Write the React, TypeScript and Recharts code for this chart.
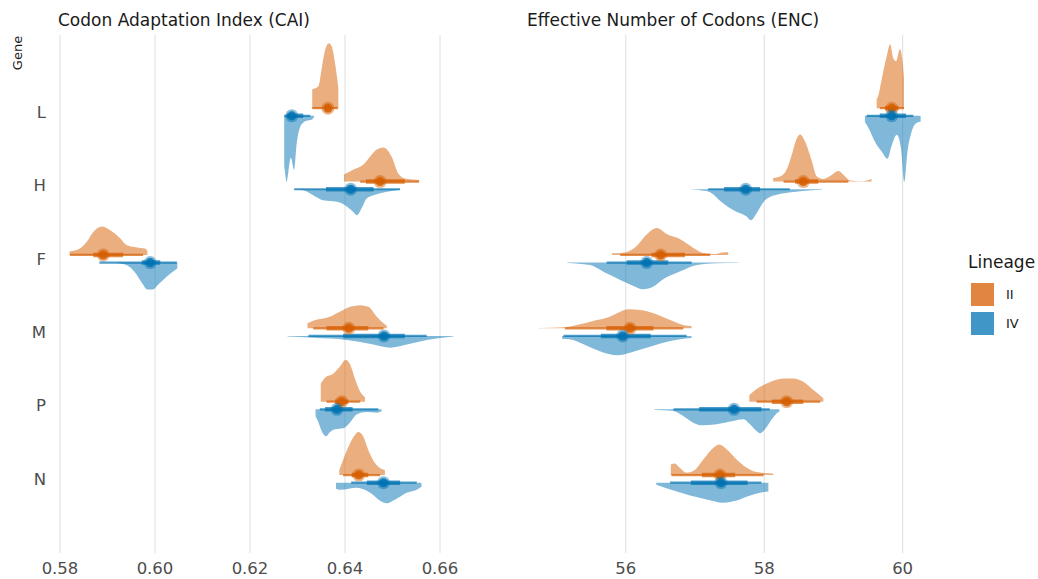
import React from "react";
import { ComposedChart, Area, Line, Scatter, XAxis, YAxis, CartesianGrid } from "recharts";

const ORANGE = "#D55E00";
const BLUE = "#0072B2";
const FONT = "'DejaVu Sans', sans-serif";

const GENES = ["L", "H", "F", "M", "P", "N"];
const LINEAGES = ["II", "IV"];

const CAI_TICKS = [0.58, 0.6, 0.62, 0.64, 0.66];
const ENC_TICKS = [56, 58, 60];

// density outlines, [value, relative density], one list per gene (same order as GENES)
const CAI_DENS_II = [
  [[0.6331, 19], [0.6344, 22], [0.6351, 40], [0.6358, 58], [0.6366, 65], [0.6372, 62], [0.6379, 45], [0.6384, 28], [0.6386, 20]],
  [[0.6398, 7], [0.6418, 12], [0.6439, 17], [0.6453, 25], [0.6467, 32], [0.6481, 34], [0.6498, 25], [0.6512, 8], [0.6526, 3], [0.6556, 1.5]],
  [[0.582, 3.5], [0.5842, 6.5], [0.5856, 13], [0.587, 23], [0.5888, 28.5], [0.5905, 25], [0.5926, 17], [0.594, 10], [0.5962, 7.5], [0.5979, 6.5], [0.5984, 4]],
  [[0.6321, 5], [0.6333, 7.5], [0.6368, 11.5], [0.6389, 16.5], [0.6411, 21.5], [0.6432, 23], [0.6449, 21.5], [0.6467, 11.5], [0.6481, 5], [0.6488, 2.5]],
  [[0.6349, 18], [0.6358, 24], [0.6375, 28], [0.6389, 35], [0.6402, 42], [0.6411, 37], [0.6421, 23], [0.6432, 10], [0.6442, 4.5]],
  [[0.6388, 5], [0.6396, 15], [0.6407, 28], [0.6418, 38], [0.6428, 43], [0.6439, 38], [0.6449, 25], [0.6463, 12], [0.6477, 6], [0.6484, 5]],
];

const CAI_DENS_IV = [
  [[0.6272, 50], [0.6274, 58], [0.6277, 66], [0.6286, 42], [0.6293, 54], [0.6298, 29], [0.6305, 12], [0.6312, 7], [0.6319, 5], [0.633, 4], [0.6335, 1]],
  [[0.6294, 0.3], [0.6312, 1], [0.6333, 6], [0.6354, 11], [0.6383, 12.5], [0.64, 16], [0.6418, 23], [0.6425, 26], [0.6435, 19], [0.6446, 9], [0.6467, 5], [0.6495, 2], [0.6516, 0.5]],
  [[0.5919, 0.5], [0.594, 2.5], [0.5958, 10], [0.5972, 20], [0.5984, 27], [0.5995, 27], [0.6007, 22], [0.6025, 14], [0.6047, 6]],
  [[0.6279, 0.5], [0.6333, 1.8], [0.6404, 4], [0.646, 8.5], [0.6495, 11.7], [0.653, 8.5], [0.6572, 4], [0.6628, 0.5]],
  [[0.6338, 7], [0.6344, 13], [0.6351, 22], [0.636, 27], [0.6368, 23], [0.6379, 20], [0.6396, 19], [0.6411, 13], [0.6425, 5], [0.6446, 2.7], [0.6467, 3.3], [0.6477, 2]],
  [[0.6381, 6], [0.639, 7], [0.6425, 5], [0.6453, 10], [0.6474, 18], [0.6488, 20.5], [0.6505, 17], [0.653, 10], [0.6551, 7], [0.6561, 4]],
];

const ENC_DENS_II = [
  [[59.625, 9], [59.65, 13], [59.7, 30], [59.77, 52], [59.82, 64], [59.865, 50], [59.905, 47], [59.96, 59], [60.0, 46], [60.02, 30]],
  [[58.13, 3.5], [58.23, 5], [58.325, 12], [58.4, 27], [58.47, 43], [58.52, 47], [58.59, 40], [58.69, 20], [58.76, 5], [58.855, 2.7], [58.975, 6.7], [59.07, 10.5], [59.17, 5], [59.24, 1], [59.385, 0.3], [59.55, 2.7]],
  [[55.8, 1.7], [55.92, 2], [56.06, 4.3], [56.16, 9.3], [56.28, 19], [56.4, 26], [56.45, 27], [56.59, 21], [56.78, 16], [56.93, 9.3], [57.12, 2], [57.29, 1], [57.43, 2.7], [57.48, 2.7]],
  [[54.74, 0.3], [55.1, 1], [55.29, 3.3], [55.58, 8.3], [55.77, 11.7], [55.92, 16.7], [56.04, 19], [56.21, 18.3], [56.4, 15], [56.64, 8.3], [56.83, 3.3], [56.95, 2.3]],
  [[57.785, 6.7], [57.87, 11.7], [57.99, 16.7], [58.13, 21], [58.28, 23.3], [58.42, 23.3], [58.565, 20], [58.71, 11.7], [58.83, 5], [58.855, 3.5]],
  [[56.65, 10.7], [56.71, 11.7], [56.78, 7.3], [56.88, 2.3], [56.975, 4], [57.12, 15.7], [57.24, 25.7], [57.35, 30.7], [57.46, 25.7], [57.6, 15.7], [57.75, 7.3], [57.89, 3], [58.13, 1.7]],
];

const ENC_DENS_IV = [
  [[59.455, 6], [59.505, 12], [59.6, 26], [59.7, 36], [59.78, 43], [59.845, 29], [59.915, 19], [59.975, 32], [60.025, 66], [60.07, 36], [60.13, 16], [60.205, 7], [60.26, 6]],
  [[56.955, 0.3], [57.1, 1.2], [57.22, 3], [57.37, 12], [57.57, 21.5], [57.74, 27], [57.81, 31], [57.89, 24], [58.01, 11], [58.165, 5.7], [58.46, 2.4], [58.835, 0.6]],
  [[55.155, 0.3], [55.48, 2.3], [55.72, 10.7], [55.92, 17.3], [56.11, 23.3], [56.25, 26.7], [56.4, 24], [56.54, 16.7], [56.78, 9], [57.03, 2.3], [57.31, 0.7], [57.64, 0.2]],
  [[55.08, 2.7], [55.19, 3.3], [55.39, 8.3], [55.58, 14], [55.77, 18.3], [55.88, 19.3], [56.06, 16.7], [56.3, 11.7], [56.54, 6.7], [56.78, 3.3], [56.95, 2]],
  [[56.41, 0.3], [56.69, 1.7], [56.83, 6.7], [56.975, 13.3], [57.1, 16], [57.31, 15], [57.55, 11.7], [57.7, 10], [57.795, 15], [57.89, 21.7], [57.94, 24], [58.01, 20], [58.11, 10], [58.2, 3], [58.22, 2.5]],
  [[56.44, 2], [56.69, 7.7], [56.93, 12.7], [57.17, 16.7], [57.41, 20], [57.6, 17.7], [57.795, 12.7], [57.99, 9.3], [58.06, 8.7]],
];

// medians and intervals (thin = 95%, thick = 66%)
const CAI_POINT_II = [0.6364, 0.6474, 0.5891, 0.6408, 0.6393, 0.6429];
const CAI_POINT_IV = [0.6288, 0.6412, 0.599, 0.6482, 0.6383, 0.6481];
const CAI_THIN_II = [[0.6331, 0.6385], [0.6432, 0.6556], [0.5821, 0.5975], [0.6333, 0.6481], [0.6361, 0.6432], [0.6396, 0.6474]];
const CAI_THICK_II = [[0.6357, 0.6371], [0.6444, 0.6526], [0.587, 0.5933], [0.6361, 0.6449], [0.6379, 0.6407], [0.6414, 0.6449]];
const CAI_THIN_IV = [[0.6272, 0.6327], [0.6293, 0.6516], [0.5883, 0.6046], [0.6323, 0.6572], [0.6347, 0.647], [0.6413, 0.6551]];
const CAI_THICK_IV = [[0.6277, 0.6312], [0.636, 0.646], [0.5972, 0.6011], [0.6396, 0.6526], [0.6358, 0.6416], [0.6446, 0.6516]];

const ENC_POINT_II = [59.843, 58.565, 56.504, 56.061, 58.325, 57.361];
const ENC_POINT_IV = [59.843, 57.733, 56.302, 55.955, 57.564, 57.376];
const ENC_THIN_II = [[59.67, 60.02], [58.28, 59.215], [55.92, 57.22], [55.12, 56.83], [57.89, 58.81], [56.66, 57.99]];
const ENC_THICK_II = [[59.745, 59.94], [58.445, 58.78], [56.37, 56.855], [55.72, 56.4], [58.11, 58.565], [57.1, 57.58]];
const ENC_THIN_IV = [[59.48, 60.155], [57.19, 58.37], [55.724, 56.952], [55.1, 56.88], [56.69, 58.08], [56.64, 57.96]];
const ENC_THICK_IV = [[59.67, 60.05], [57.42, 57.94], [56.013, 56.614], [55.64, 56.36], [57.06, 57.96], [56.94, 57.76]];

const Y_DOMAIN: [number, number] = [-0.01, 7.05];
const DENSITY_SCALE = 1 / 73.37;
const BASE_OFFSET = 0.052;

const pointShape = (color: string) => (props: any) => {
  const { cx, cy } = props;
  if (cx == null || cy == null) return <g />;
  return (
    <g>
      <circle cx={cx} cy={cy} r={6.5} fill={color} fillOpacity={0.45} />
      <circle cx={cx} cy={cy} r={4.5} fill={color} fillOpacity={0.85} />
    </g>
  );
};

function DensityPanel(props: any) {
  const {
    width, margin, domain, ticks, formatTick, showGenes,
    densII, densIV, pointII, pointIV, thinII, thickII, thinIV, thickIV,
  } = props;

  const areas: any[] = [];
  const thin: any[] = [];
  const thick: any[] = [];
  const ptsII: any[] = [];
  const ptsIV: any[] = [];

  GENES.forEach((gene, i) => {
    const pos = GENES.length - i;
    const baseII = pos + BASE_OFFSET;
    const baseIV = pos - BASE_OFFSET;

    areas.push(
      <Area
        key={`a-ii-${gene}`}
        data={densII[i].map(([x, d]: number[]) => ({ x, band: [baseII, baseII + d * DENSITY_SCALE] }))}
        dataKey="band"
        type="monotoneX"
        fill={ORANGE}
        fillOpacity={0.5}
        stroke="none"
        dot={false}
        activeDot={false}
        isAnimationActive={false}
      />,
      <Area
        key={`a-iv-${gene}`}
        data={densIV[i].map(([x, d]: number[]) => ({ x, band: [baseIV - d * DENSITY_SCALE, baseIV] }))}
        dataKey="band"
        type="monotoneX"
        fill={BLUE}
        fillOpacity={0.5}
        stroke="none"
        dot={false}
        activeDot={false}
        isAnimationActive={false}
      />
    );

    [
      { lin: "ii", base: baseII, color: ORANGE, t: thinII[i], k: thickII[i] },
      { lin: "iv", base: baseIV, color: BLUE, t: thinIV[i], k: thickIV[i] },
    ].forEach(({ lin, base, color, t, k }) => {
      thin.push(
        <Line
          key={`t-${lin}-${gene}`}
          data={[{ x: t[0], y: base }, { x: t[1], y: base }]}
          dataKey="y"
          type="linear"
          stroke={color}
          strokeOpacity={0.7}
          strokeWidth={2.2}
          dot={false}
          activeDot={false}
          isAnimationActive={false}
        />
      );
      thick.push(
        <Line
          key={`k-${lin}-${gene}`}
          data={[{ x: k[0], y: base }, { x: k[1], y: base }]}
          dataKey="y"
          type="linear"
          stroke={color}
          strokeOpacity={0.7}
          strokeWidth={4.5}
          dot={false}
          activeDot={false}
          isAnimationActive={false}
        />
      );
    });

    ptsII.push({ x: pointII[i], y: baseII });
    ptsIV.push({ x: pointIV[i], y: baseIV });
  });

  // grid lines only at the tick values, not at the panel edges
  const gridX = ({ offset }: any) =>
    ticks.map((t: number) => offset.left + ((t - domain[0]) / (domain[1] - domain[0])) * offset.width);

  return (
    <ComposedChart width={width} height={579} margin={margin}>
      <CartesianGrid horizontal={false} stroke="#dedede" strokeWidth={1} verticalCoordinatesGenerator={gridX} />
      <XAxis
        type="number"
        dataKey="x"
        domain={domain}
        ticks={ticks}
        allowDataOverflow
        axisLine={false}
        tickLine={false}
        tickSize={0}
        tickMargin={9}
        height={26}
        interval={0}
        tick={{ fill: "#4d4d4d", fontSize: 16.5, fontFamily: FONT }}
        tickFormatter={formatTick}
      />
      <YAxis
        type="number"
        domain={Y_DOMAIN}
        allowDataOverflow
        ticks={[1, 2, 3, 4, 5, 6]}
        hide={!showGenes}
        width={showGenes ? 50.5 : 0}
        axisLine={false}
        tickLine={false}
        tickSize={0}
        tickMargin={4.5}
        interval={0}
        tick={{ fill: "#4d4d4d", fontSize: 16.5, fontFamily: FONT }}
        tickFormatter={(v: number) => GENES[GENES.length - v]}
      />
      {areas}
      {thin}
      {thick}
      <Scatter data={ptsII} dataKey="y" shape={pointShape(ORANGE)} isAnimationActive={false} />
      <Scatter data={ptsIV} dataKey="y" shape={pointShape(BLUE)} isAnimationActive={false} />
    </ComposedChart>
  );
}

export default function App() {
  return (
    <div
      style={{
        position: "absolute",
        left: 0,
        top: 0,
        width: 1038,
        height: 579,
        background: "#fff",
        fontFamily: FONT,
        overflow: "hidden",
      }}
    >
      <div style={{ position: "absolute", left: 0, top: 0 }}>
        <DensityPanel
          width={500}
          margin={{ top: 35, right: 27.7, bottom: 0, left: 0 }}
          domain={[0.578, 0.6668]}
          ticks={CAI_TICKS}
          formatTick={(v: number) => v.toFixed(2)}
          showGenes
          densII={CAI_DENS_II}
          densIV={CAI_DENS_IV}
          pointII={CAI_POINT_II}
          pointIV={CAI_POINT_IV}
          thinII={CAI_THIN_II}
          thickII={CAI_THICK_II}
          thinIV={CAI_THIN_IV}
          thickIV={CAI_THICK_IV}
        />
      </div>
      <div style={{ position: "absolute", left: 500, top: 0 }}>
        <DensityPanel
          width={460}
          margin={{ top: 35, right: 20, bottom: 0, left: 19.2 }}
          domain={[54.46, 60.54]}
          ticks={ENC_TICKS}
          formatTick={(v: number) => String(v)}
          showGenes={false}
          densII={ENC_DENS_II}
          densIV={ENC_DENS_IV}
          pointII={ENC_POINT_II}
          pointIV={ENC_POINT_IV}
          thinII={ENC_THIN_II}
          thickII={ENC_THICK_II}
          thinIV={ENC_THIN_IV}
          thickIV={ENC_THICK_IV}
        />
      </div>

      <div style={{ position: "absolute", left: 58, top: 10, fontSize: 17, lineHeight: "20px", color: "#1a1a1a", whiteSpace: "nowrap" }}>
        Codon Adaptation Index (CAI)
      </div>
      <div style={{ position: "absolute", left: 527, top: 10, fontSize: 17, lineHeight: "20px", color: "#1a1a1a", whiteSpace: "nowrap" }}>
        Effective Number of Codons (ENC)
      </div>
      <div
        style={{
          position: "absolute",
          left: 17,
          top: 53,
          fontSize: 13,
          color: "#1a1a1a",
          whiteSpace: "nowrap",
          transform: "translate(-50%, -50%) rotate(-90deg)",
        }}
      >
        Gene
      </div>

      <div style={{ position: "absolute", left: 968, top: 252, fontSize: 17, lineHeight: "20px", color: "#1a1a1a" }}>
        Lineage
      </div>
      {LINEAGES.map((lin, i) => (
        <div key={lin} style={{ position: "absolute", left: 971, top: 283 + i * 29, display: "flex", alignItems: "center" }}>
          <div style={{ width: 23, height: 23, background: i === 0 ? "#E08640" : "#4096C6" }} />
          <span style={{ marginLeft: 12, fontSize: 13, color: "#1a1a1a" }}>{lin}</span>
        </div>
      ))}
    </div>
  );
}
